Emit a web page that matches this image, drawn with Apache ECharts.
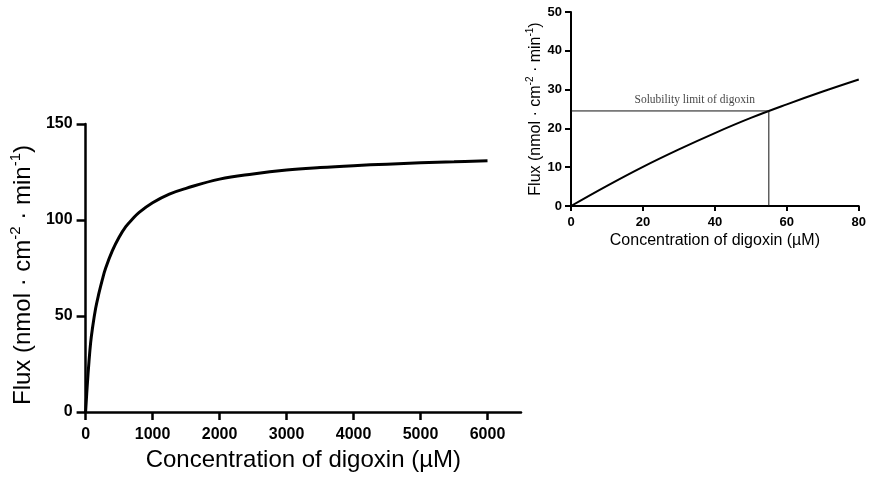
<!DOCTYPE html>
<html>
<head>
<meta charset="utf-8">
<script src="https://cdn.jsdelivr.net/npm/echarts@6/dist/echarts.min.js"></script>
<style>
    * {margin: 0; padding: 0;}
    html, body {background: #fff;}
    #main {width: 869px; height: 483px;}
</style>
</head>
<body>
<div id="main"></div>
<script>
// 主图：浓度 (µM) 与通量
const MAIN_CONC = [0, 25, 50, 75, 100, 150, 200, 250, 300, 400, 500, 600, 700, 800,
    1000, 1250, 1500, 2000, 2500, 3000, 3500, 4000, 4500, 5000, 5500, 6000];
const MAIN_FLUX = [0, 14, 26, 36, 43, 54, 62, 69, 75, 84, 91, 96.5, 100.5, 104,
    109, 113.5, 116.5, 121.3, 124, 126, 127.3, 128.3, 129.1, 129.8, 130.3, 130.8];
const MAIN_X_TICKS = [0, 1000, 2000, 3000, 4000, 5000, 6000];
const MAIN_Y_TICKS = [0, 50, 100, 150];

// 小图：溶解度范围内
const INSET_CONC = [0, 10, 20, 30, 40, 50, 60, 70, 80];
const INSET_FLUX = [0, 5.2, 10.1, 14.6, 18.8, 22.7, 26.2, 29.5, 32.6];
const INSET_X_TICKS = [0, 20, 40, 60, 80];
const INSET_Y_TICKS = [0, 10, 20, 30, 40, 50];

// 溶解度极限
const SOLUBILITY_CONC = 55;
const SOLUBILITY_FLUX = 24.5;
const SOLUBILITY_LABEL = 'Solubility limit of digoxin';
const SOLUBILITY_LABEL_X = 34.4;

const FONT = '"Liberation Sans", Arial, sans-serif';
const X_NAME = 'Concentration of digoxin (µM)';
const Y_NAME = '{t|Flux (nmol · cm}{s|-2}{t| · min}{s|-1}{t|)}';

function zip(xs, ys) {
    return xs.map((x, i) => [x, ys[i]]);
}

function axis(opt) {
    return {
        type: 'value',
        gridIndex: opt.grid,
        min: opt.min,
        max: opt.max,
        interval: opt.interval,
        name: opt.name,
        nameLocation: 'middle',
        nameGap: opt.nameGap,
        nameRotate: opt.nameRotate,
        nameTextStyle: opt.nameTextStyle,
        splitLine: {show: false},
        axisLine: {show: true, lineStyle: {color: '#000', width: opt.lineWidth}},
        axisTick: {
            show: true,
            length: opt.tickLen,
            lineStyle: {color: '#000', width: opt.lineWidth},
            customValues: opt.ticks
        },
        axisLabel: {
            color: '#000',
            fontFamily: FONT,
            fontWeight: 'bold',
            fontSize: opt.labelSize,
            margin: opt.margin,
            customValues: opt.ticks,
            formatter: v => String(v)
        }
    };
}

const chart = echarts.init(document.getElementById('main'), null, {renderer: 'canvas'});

chart.setOption({
    animation: false,
    backgroundColor: '#fff',
    grid: [
        {left: 85, top: 124, width: 436, height: 288},
        {left: 571, top: 12, width: 290, height: 194}
    ],
    xAxis: [
        axis({
            grid: 0, min: 0, max: 6500, interval: 500, ticks: MAIN_X_TICKS,
            name: X_NAME, nameGap: 32,
            nameTextStyle: {color: '#000', fontFamily: FONT, fontSize: 24},
            lineWidth: 2.5, tickLen: 8, labelSize: 16, margin: 15
        }),
        axis({
            grid: 1, min: 0, max: 80, interval: 20, ticks: INSET_X_TICKS,
            name: X_NAME, nameGap: 27,
            nameTextStyle: {color: '#000', fontFamily: FONT, fontSize: 16},
            lineWidth: 2, tickLen: 5, labelSize: 13, margin: 10
        })
    ],
    yAxis: [
        axis({
            grid: 0, min: 0, max: 150, interval: 50, ticks: MAIN_Y_TICKS,
            name: Y_NAME, nameGap: 47, nameRotate: 90,
            nameTextStyle: {
                padding: [0, 14, 0, 0],
                rich: {
                    t: {color: '#000', fontFamily: FONT, fontSize: 24, lineHeight: 30},
                    s: {color: '#000', fontFamily: FONT, fontSize: 15, verticalAlign: 'top', lineHeight: 30}
                }
            },
            lineWidth: 2.5, tickLen: 9, labelSize: 16, margin: 13
        }),
        axis({
            grid: 1, min: 0, max: 50, interval: 10, ticks: INSET_Y_TICKS,
            name: Y_NAME, nameGap: 23, nameRotate: 90,
            nameTextStyle: {
                rich: {
                    t: {color: '#000', fontFamily: FONT, fontSize: 16, lineHeight: 20},
                    s: {color: '#000', fontFamily: FONT, fontSize: 10, verticalAlign: 'top', lineHeight: 20}
                }
            },
            lineWidth: 2, tickLen: 6, labelSize: 13, margin: 9
        })
    ],
    series: [
        {
            type: 'line',
            xAxisIndex: 0,
            yAxisIndex: 0,
            data: zip(MAIN_CONC, MAIN_FLUX),
            showSymbol: false,
            smooth: 0.4,
            lineStyle: {color: '#000', width: 3}
        },
        {
            type: 'line',
            xAxisIndex: 1,
            yAxisIndex: 1,
            data: zip(INSET_CONC, INSET_FLUX),
            showSymbol: false,
            smooth: 0.4,
            lineStyle: {color: '#000', width: 2}
        },
        {
            // 溶解度极限的折线
            type: 'line',
            xAxisIndex: 1,
            yAxisIndex: 1,
            data: [[0, SOLUBILITY_FLUX], [SOLUBILITY_CONC, SOLUBILITY_FLUX], [SOLUBILITY_CONC, 0]],
            showSymbol: false,
            lineStyle: {color: '#111', width: 1}
        },
        {
            type: 'scatter',
            xAxisIndex: 1,
            yAxisIndex: 1,
            data: [[SOLUBILITY_LABEL_X, SOLUBILITY_FLUX]],
            symbolSize: 0,
            silent: true,
            label: {
                show: true,
                position: 'top',
                distance: 5,
                formatter: SOLUBILITY_LABEL,
                color: '#111',
                fontFamily: '"Liberation Serif", "Times New Roman", serif',
                fontSize: 11.5
            }
        }
    ]
});
</script>
</body>
</html>
